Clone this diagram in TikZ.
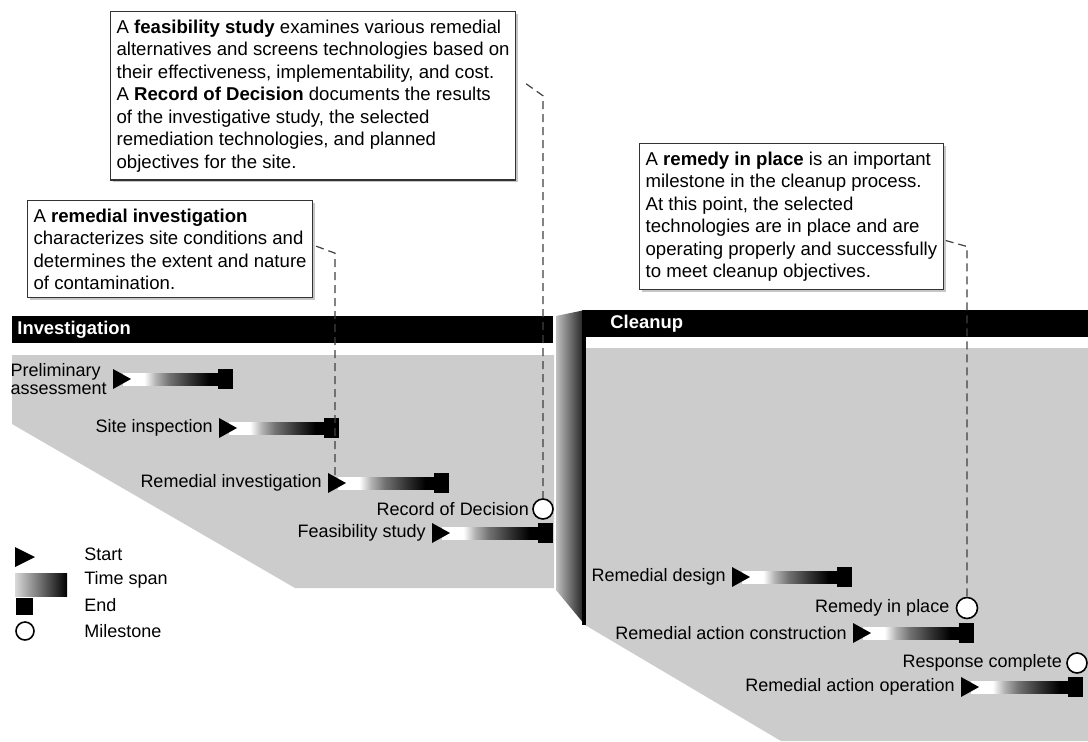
\documentclass[tikz,border=0pt]{standalone}
\usepackage{fontspec}
\setmainfont{Liberation Sans}
\usetikzlibrary{calc,positioning,shadows}
\pgfdeclarehorizontalshading{spanfade}{100bp}{color(0bp)=(white); color(36bp)=(white); color(42bp)=(black!30); color(49bp)=(black!55); color(60bp)=(black!80); color(70bp)=(black); color(100bp)=(black)}

\begin{document}
\begin{tikzpicture}[x=0.5pt,y=-0.5pt,
    note/.style={draw=black!80,line width=.6pt,fill=white,align=left,anchor=north west,inner xsep=3pt,inner ysep=4pt,
      font=\fontsize{9.3}{11.25}\selectfont,drop shadow={shadow xshift=1.2pt,shadow yshift=-1.2pt,opacity=.45}},
    leader/.style={black!75,line width=.6pt,dash pattern=on 4pt off 2.5pt},
    phaselabel/.style={anchor=west,text=white,inner sep=0pt,font=\fontsize{9.2}{11}\selectfont\bfseries},
    area/.style={fill=black!20},
    milestone/.style={circle,draw,line width=.8pt,fill=white,minimum size=10pt,inner sep=0pt},
    lbl/.style={inner sep=0pt,align=left,font=\fontsize{9}{8.6}\selectfont}]

\useasboundingbox (0,0) rectangle (1088,741);

% phase areas
\fill[area] (12,355) -- (554,355) -- (554,588) -- (295,588) -- (12,424) -- cycle;
\fill[area] (585,348) -- (1088,348) -- (1088,741) -- (781,741) -- (585,625) -- cycle;
\shade[left color=black!25,right color=black!90] (556,316) -- (585,310) -- (585,625) -- (556,590) -- cycle;
\draw[line width=2pt] (584,310) -- (584,625);

\fill (12,316) rectangle (553,343);
\node[phaselabel] (inv) at (17,329.5) {Investigation};
\fill (585,310) rectangle (1088,337);
\node[phaselabel] (cln) at (610,323.5) {Cleanup};

% start / time span / end
\foreach \t/\lab/\xa/\xb/\y in {pa/{Preliminary\\assessment}/113/233/379, si/Site inspection/219/339/428,
    ri/Remedial investigation/328/449/483, fs/Feasibility study/432/553/533, rd/Remedial design/732/852/577,
    rac/Remedial action construction/853/974/633, rao/Remedial action operation/961/1083/687} {
  \shade[shading=spanfade] (\xa+10,\y-6) rectangle (\xb-14,\y+6);
  \fill (\xa,\y-10) -- (\xa,\y+10) -- (\xa+18,\y) -- cycle;
  \fill (\xb-15,\y-10) rectangle (\xb,\y+10);
  \coordinate (\t-s) at (\xa,\y);
  \coordinate (\t-top) at (\xa+7,\y-6);
  \node[lbl,left=3pt of \t-s] (\t) {\lab};
}

% milestones
\node[milestone] (rod) at (543,509) {};
\node[lbl,left=1.5pt of rod] (rodlbl) {Record of Decision};
\node[milestone,minimum size=10.5pt] (rip) at (967,608) {};
\node[lbl,left=3pt of rip] (riplbl) {Remedy in place};
\node[milestone] (rc) at (1077,663) {};
\node[lbl,left=2pt of rc] (rclbl) {Response complete};

% legend
\fill (15,547) -- (15,567) -- (35,557) -- cycle;
\shade[left color=black!15,right color=black] (15,573) rectangle (67,596);
\fill (16,598) rectangle (33,615);
\node[milestone,minimum size=9pt] (lgm) at (25,631) {};
\node[lbl,anchor=west] (lgstart) at (84,554) {Start};
\node[lbl,anchor=west] (lgspan) at (84,580) {Time span};
\node[lbl,anchor=west] (lgend) at (84,605) {End};
\node[lbl,anchor=west] (lgmile) at (84,631) {Milestone};

% callouts
\node[note] (fsnote) at (110,11) {A \textbf{feasibility study} examines various remedial\\
  alternatives and screens technologies based on\\
  their effectiveness, implementability, and cost.\\
  A \textbf{Record of Decision} documents the results\\
  of the investigative study, the selected\\
  remediation technologies, and planned\\
  objectives for the site.};
\node[note] (rinote) at (27,200) {A \textbf{remedial investigation}\\
  characterizes site conditions and\\
  determines the extent and nature\\
  of contamination.};
\node[note] (rpnote) at (639,143) {A \textbf{remedy in place} is an important\\
  milestone in the cleanup process.\\
  At this point, the selected\\
  technologies are in place and are\\
  operating properly and successfully\\
  to meet cleanup objectives.};

\draw[leader] ($(fsnote.east)+(10,-12)$) -- ($(rod.north |- fsnote.east)+(0,0)$) -- (rod.north);
\draw[leader] ($(rinote.east)+(3,-3)$) -- ($(ri-top |- rinote.east)+(0,4)$) -- (ri-top);
\draw[leader] ($(rpnote.east)+(2,24)$) -- ($(rip.north |- rpnote.east)+(0,30)$) -- (rip.north);
\end{tikzpicture}
\end{document}
